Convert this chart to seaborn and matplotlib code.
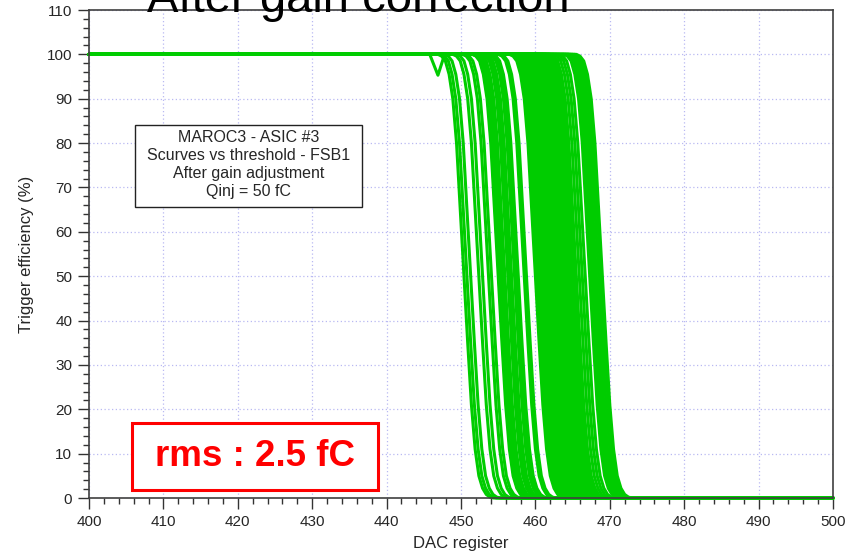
import numpy as np
import pandas as pd
import matplotlib
matplotlib.use("Agg")
import matplotlib.pyplot as plt
from matplotlib.patches import Rectangle
from matplotlib.ticker import MultipleLocator
import seaborn as sns

# 50 % points (DAC units) of the trigger S-curves, one per channel
midpoints = [
    450.4, 450.8, 451.3, 452.4, 452.9, 453.7, 454.1, 455.0, 455.1, 455.4,
    455.6, 455.9, 456.3, 456.5, 456.8, 457.2, 457.5, 457.7, 458.5, 458.8,
    460.0, 460.3, 460.4, 460.6, 460.9, 461.0, 461.2, 461.5, 461.6, 461.8,
    462.0, 462.1, 462.3, 462.5, 462.6, 462.8, 462.9, 463.1, 463.3, 463.4,
    463.6, 463.7, 463.9, 464.0, 464.2, 464.4, 464.5, 464.8, 464.9, 465.0,
    465.3, 465.4, 465.5, 465.9, 466.3, 466.7, 467.3, 467.6, 467.9, 468.0,
    468.2, 468.5, 468.8, 469.0,
]

# common S-curve shape: DAC offset from the 50 % point -> efficiency (%)
profile_offset = [-3.5, -3.0, -2.5, -2.0, -1.5, -1.0, -0.5, 0.0,
                  0.5, 1.0, 1.5, 2.0, 2.5, 3.0, 3.5, 4.0]
profile_eff = [100.0, 99.6, 98.5, 95.5, 90.0, 80.0, 65.0, 50.0,
               35.0, 21.0, 11.0, 5.0, 2.2, 0.8, 0.2, 0.0]

# a noisy channel with a dip on the plateau
glitch_dac = [445.8, 446.9, 447.8]
glitch_eff = [100.0, 95.3, 100.0]

x_ticks = list(range(400, 501, 10))
y_ticks = list(range(0, 111, 10))

rows = []
for ch, mid in enumerate(midpoints):
    rows.append((ch, 400.0, 100.0))
    for off, eff in zip(profile_offset, profile_eff):
        rows.append((ch, mid + off, eff))
    rows.append((ch, 500.0, 0.0))
df = pd.DataFrame(rows, columns=["channel", "dac", "eff"])

sns.set_style("white")
plt.rcParams["font.family"] = ["Liberation Sans", "DejaVu Sans"]

fig = plt.figure(figsize=(8.61, 5.56), dpi=100)
ax = fig.add_axes([89 / 861, 58 / 556, 744 / 861, 488 / 556])

green = "#00cc00"
sns.lineplot(data=df, x="dac", y="eff", units="channel", estimator=None,
             sort=False, color=green, lw=2.2, legend=False, ax=ax)
ax.plot(glitch_dac, glitch_eff, color=green, lw=2.2)
for ln in ax.lines:
    ln.set_clip_on(False)

ax.set_xlim(400, 500)
ax.set_ylim(0, 110)
ax.set_xticks(x_ticks)
ax.set_yticks(y_ticks)
ax.xaxis.set_minor_locator(MultipleLocator(2))
ax.yaxis.set_minor_locator(MultipleLocator(2))
ax.tick_params(axis="both", which="major", direction="out", length=8,
               width=1.0, color="#333333", labelsize=11, pad=4,
               bottom=True, left=True, top=False, right=False)
ax.tick_params(axis="both", which="minor", direction="out", length=4.5,
               width=1.0, color="#333333",
               bottom=True, left=True, top=False, right=False)
for sp in ax.spines.values():
    sp.set_visible(True)
    sp.set_color("#404040")
    sp.set_linewidth(1.2)

ax.grid(True, which="major", color="#b9b9f2", linestyle=(0, (1, 2)), lw=0.9)
ax.set_axisbelow(True)

ax.set_xlabel("DAC register", fontsize=12, labelpad=5)
ax.set_ylabel("Trigger efficiency (%)", fontsize=12, labelpad=9)

# info box
ax.add_patch(Rectangle((0.0618, 0.5963), 0.3051, 0.168, transform=ax.transAxes,
                       facecolor="white", edgecolor="#222222", lw=1.0, zorder=5))
ax.text(0.2144, 0.684,
        "MAROC3 - ASIC #3\nScurves vs threshold - FSB1\nAfter gain adjustment\nQinj = 50 fC",
        transform=ax.transAxes, ha="center", va="center", fontsize=11.5,
        linespacing=1.25, zorder=6)

# rms box
ax.add_patch(Rectangle((0.0578, 0.0164), 0.3306, 0.1373, transform=ax.transAxes,
                       facecolor="white", edgecolor="#ff0000", lw=2.2, zorder=5))
ax.text(0.2231, 0.085, "rms : 2.5 fC", transform=ax.transAxes, ha="center",
        va="center", fontsize=26.5, fontweight="bold", color="#ff0000", zorder=6)

fig.text(0.4165, 1 - 11.5 / 556, "After gain correction", ha="center",
         va="baseline", fontsize=34, color="black")

fig.savefig("out.png", dpi=100)
